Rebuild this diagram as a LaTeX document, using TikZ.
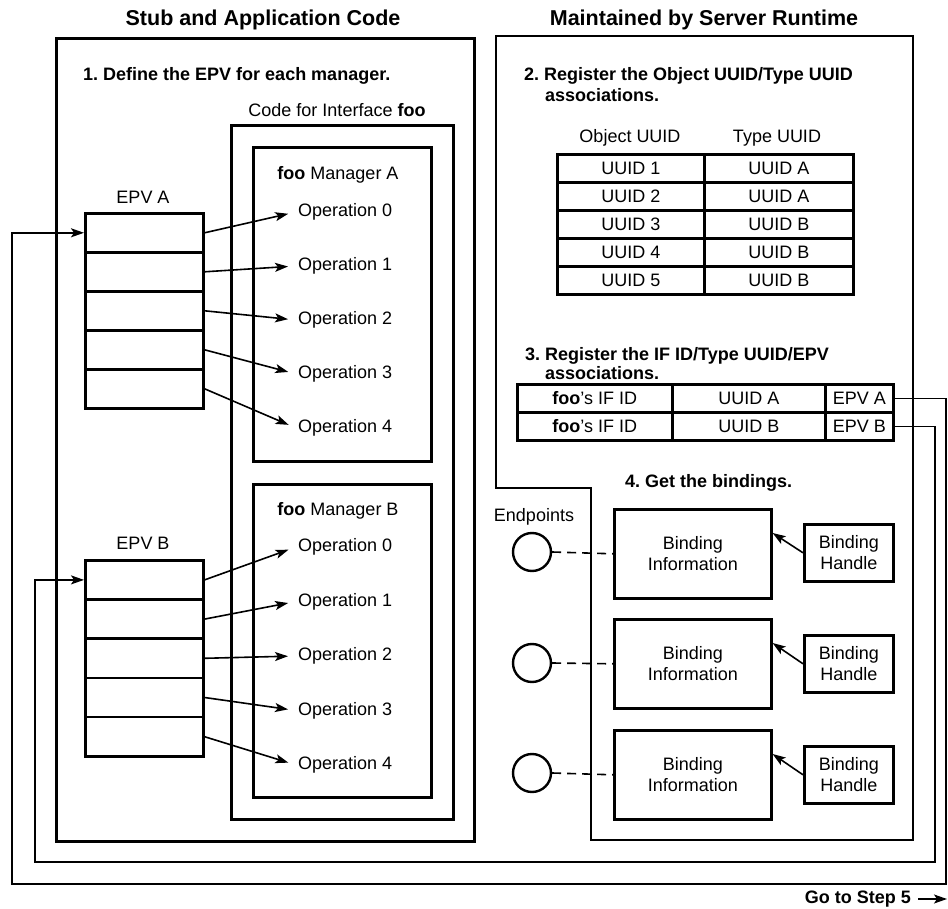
\documentclass[tikz,border=0pt]{standalone}
\usepackage{fontspec}
\setmainfont{Liberation Sans}
\usetikzlibrary{arrows.meta}
\frenchspacing
\begin{document}
\frenchspacing
\begin{tikzpicture}[x=1pt,y=-1pt,
  every node/.style={font=\fontsize{18}{21.5}\selectfont},
  fb/.style={font=\fontsize{18}{21.5}\selectfont\bfseries},
  ttl/.style={font=\fontsize{21.5}{24}\selectfont\bfseries},
  box/.style={draw,line width=2.6pt,inner sep=0pt,anchor=north west},
  cell/.style={box,minimum height=28pt},
  conn/.style={line width=1.6pt},
  tip/.style={-{Stealth[length=13pt,width=9pt,inset=3pt]}},
  op/.style={anchor=west,inner sep=2pt},
  lbl/.style={inner sep=0pt},
  stepline/.style={fb,lbl,anchor=base west},
  endpt/.style={circle,draw,line width=2.4pt,minimum size=38pt,inner sep=0pt},
  dashline/.style={conn,dash pattern=on 9pt off 6pt}]
\useasboundingbox (0,0) rectangle (948,909);

% titles
\node[ttl] (t1) at (263,20) {Stub and Application Code};
\node[ttl] (t2) at (704,20) {Maintained by Server Runtime};

% left side
\node[box,minimum width=418pt,minimum height=803pt] (leftbox) at (55,37) {};
\node[stepline] (s1) at (83,81) {1. Define the EPV for each manager.};
\node[lbl] (cif) at (337,110) {Code for Interface \textbf{foo}};
\node[box,minimum width=222pt,minimum height=694pt] (iface) at (230,124) {};
\node[box,minimum width=178pt,minimum height=314pt] (mgrA) at (252,146) {};
\node[box,minimum width=178pt,minimum height=313pt] (mgrB) at (252,483) {};
\node[lbl] (mAt) at (338,175) {\textbf{foo} Manager A};
\node[lbl] (mBt) at (338,511) {\textbf{foo} Manager B};
\node[lbl] (epvAt) at (143,197) {EPV A};
\node[lbl] (epvBt) at (143,543) {EPV B};

\foreach \i in {0,...,4} {
  \node[box,minimum width=118pt,minimum height=39pt] (ea\i) at (84,{212+39*\i}) {};
  \node[box,minimum width=118pt,minimum height=39.2pt] (eb\i) at (84,{559+39.2*\i}) {};
  \node[op] (oa\i) at (296,{212+54*\i}) {Operation \i};
  \node[op] (ob\i) at (296,{547+54.5*\i}) {Operation \i};
  \draw[conn,tip,shorten >=8pt] (ea\i.east) -- (oa\i.west);
  \draw[conn,tip,shorten >=8pt] (eb\i.east) -- (ob\i.west);
}

% right side
\draw[line width=2.6pt] (496,36) -- (913,36) -- (913,840) -- (591,840) -- (591,488) -- (496,488) -- cycle;
\node[stepline] (s2a) at (524,81) {2. Register the Object UUID/Type UUID};
\node[stepline] (s2b) at (545,102) {associations.};
\node[lbl] (hobj) at (630,138) {Object UUID};
\node[lbl] (htyp) at (777,138) {Type UUID};
\foreach \t/\u [count=\i from 0] in {1/A,2/A,3/B,4/B,5/B} {
  \node[cell,minimum width=147pt] (oid\i) at (556,{153+28*\i}) {UUID \t};
  \node[cell,minimum width=149pt] (tid\i) at (703,{153+28*\i}) {UUID \u};
}

\node[stepline] (s3a) at (525,360) {3. Register the IF ID/Type UUID/EPV};
\node[stepline] (s3b) at (545,380) {associations.};
\node[cell,minimum width=155pt] (ra1) at (516,383) {\textbf{foo}'s IF ID};
\node[cell,minimum width=153pt] (ra2) at (671,383) {UUID A};
\node[cell,minimum width=68pt] (ra3) at (824,383) {EPV A};
\node[cell,minimum width=155pt] (rb1) at (516,411) {\textbf{foo}'s IF ID};
\node[cell,minimum width=153pt] (rb2) at (671,411) {UUID B};
\node[cell,minimum width=68pt] (rb3) at (824,411) {EPV B};

\node[stepline] (s4) at (625,487) {4. Get the bindings.};
\node[lbl] (eplbl) at (534,517) {Endpoints};

\foreach \k/\iy/\hy/\cy in {1/508/523/552,2/618/634/663,3/729/745/773} {
  \node[box,minimum width=157pt,minimum height=89pt,align=center] (bi\k) at (613,\iy) {Binding\\Information};
  \node[box,minimum width=89pt,minimum height=57pt,align=center] (bh\k) at (803,\hy) {Binding\\Handle};
  \node[endpt] (ep\k) at (532,\cy) {};
  \draw[dashline] (ep\k.east) -- (bi\k.west);
  \draw[conn,tip] (bh\k.west) -- ([yshift=-25pt]bi\k.north east);
}

% return connectors
\coordinate (aR) at (946,884);
\coordinate (aL) at (12,884);
\draw[conn,tip] (ra3.east) -| (aR) -- (aL) |- (ea0.west);
\coordinate (bR) at (935,862);
\coordinate (bL) at (35,862);
\draw[conn,tip] (rb3.east) -| (bR) -- (bL) |- (eb0.west);

% go to step 5
\node[fb,anchor=east,inner sep=2pt] (go) at (913,899) {Go to Step 5};
\coordinate (goend) at (947,899);
\draw[conn,tip,shorten <=5pt] (go.east) -- (goend);
\end{tikzpicture}
\end{document}
